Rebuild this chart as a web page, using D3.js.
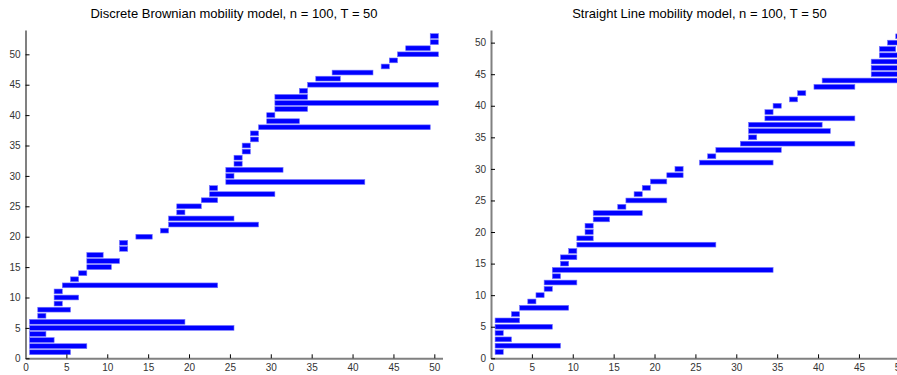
<!DOCTYPE html>
<html>
<head>
<meta charset="utf-8">
<script src="https://cdn.jsdelivr.net/npm/d3@7"></script>
<style>
  body { margin: 0; background: #fff; }
  svg text { font-family: "Liberation Sans", Arial, sans-serif; }
</style>
</head>
<body>
<div id="chart"></div>
<script>
// time slots each node is connected, row i = node i+1 (start..end, inclusive)
var brownStart = [1, 1, 1, 1, 1, 1, 2, 2, 4, 4, 4, 5, 6, 7, 8, 8, 8, 12, 12, 14,
  17, 18, 18, 19, 19, 22, 23, 23, 25, 25, 25, 26, 26, 27, 27, 28, 28, 29, 30, 30,
  31, 31, 31, 34, 35, 36, 38, 44, 45, 46, 47, 50, 50];
var brownEnd = [5, 7, 3, 2, 25, 19, 2, 5, 4, 6, 4, 23, 6, 7, 10, 11, 9, 12, 12, 15,
  17, 28, 25, 19, 21, 23, 30, 23, 41, 25, 31, 26, 26, 27, 27, 28, 28, 49, 33, 30,
  34, 50, 34, 34, 50, 38, 42, 44, 45, 50, 49, 50, 50];

var lineStart = [1, 1, 1, 1, 1, 1, 3, 4, 5, 6, 7, 7, 8, 8, 9, 9, 10, 11, 11, 12,
  12, 13, 13, 16, 17, 18, 19, 20, 22, 23, 26, 27, 28, 31, 32, 32, 32, 34, 34, 35,
  37, 38, 40, 41, 47, 47, 47, 48, 48, 49, 50];
var lineEnd = [1, 8, 2, 1, 7, 3, 3, 9, 5, 6, 7, 10, 8, 34, 9, 10, 10, 27, 12, 12,
  12, 14, 18, 16, 21, 18, 19, 21, 23, 23, 34, 27, 35, 44, 32, 41, 40, 44, 34, 35,
  37, 38, 44, 50, 50, 50, 50, 50, 49, 50, 50];

var xTicks = [0, 5, 10, 15, 20, 25, 30, 35, 40, 45, 50];
var yTicks = [0, 5, 10, 15, 20, 25, 30, 35, 40, 45, 50];

var panels = [
  { title: "Discrete Brownian mobility model, n = 100, T = 50", start: brownStart, end: brownEnd,
    left: 25.5, xMax: 51, yMax: 54 },
  { title: "Straight Line mobility model, n = 100, T = 50", start: lineStart, end: lineEnd,
    left: 491, xMax: 51, yMax: 52 }
];

var width = 897, height = 375;
var plotW = 417, plotTop = 30, plotBottom = 358.3;

var svg = d3.select("#chart")
  .append("svg")
  .attr("width", width)
  .attr("height", height);

panels.forEach(function(p) {
  var x = d3.scaleLinear().domain([0, p.xMax]).range([p.left, p.left + plotW]);
  var y = d3.scaleLinear().domain([0, p.yMax]).range([plotBottom, plotTop]);

  var rows = p.start.map(function(s, i) {
    return { row: i + 1, s: s - 0.5, e: p.end[i] + 0.5 };
  });

  var g = svg.append("g");

  // bars
  g.selectAll("rect.bar")
    .data(rows)
    .enter()
    .append("rect")
    .attr("class", "bar")
    .attr("x", function(d) { return x(d.s); })
    .attr("width", function(d) { return x(d.e) - x(d.s); })
    .attr("y", function(d) { return y(d.row) - 2.4; })
    .attr("height", 4.8)
    .attr("fill", "#0000ff")
    .attr("stroke", "#7070ff")
    .attr("stroke-width", 0.6);

  // x axis
  var xAxis = g.append("g")
    .attr("transform", "translate(0," + plotBottom + ")")
    .call(d3.axisBottom(x).tickValues(xTicks).tickSizeInner(-4).tickSizeOuter(0).tickPadding(6));
  // y axis
  var yAxis = g.append("g")
    .attr("transform", "translate(" + p.left + ",0)")
    .call(d3.axisLeft(y).tickValues(yTicks).tickSizeInner(-4).tickSizeOuter(0).tickPadding(5));

  [xAxis, yAxis].forEach(function(a) {
    a.select(".domain").attr("stroke", "#808080").attr("stroke-width", 2);
    a.selectAll(".tick line").attr("stroke", "#000").attr("stroke-width", 1);
    a.selectAll(".tick text")
      .attr("fill", "#333")
      .style("font-size", "10px");
  });

  // title
  g.append("text")
    .attr("x", p.left + plotW / 2)
    .attr("y", 18)
    .attr("text-anchor", "middle")
    .attr("fill", "#000")
    .style("font-size", "13px")
    .text(p.title);
});
</script>
</body>
</html>
